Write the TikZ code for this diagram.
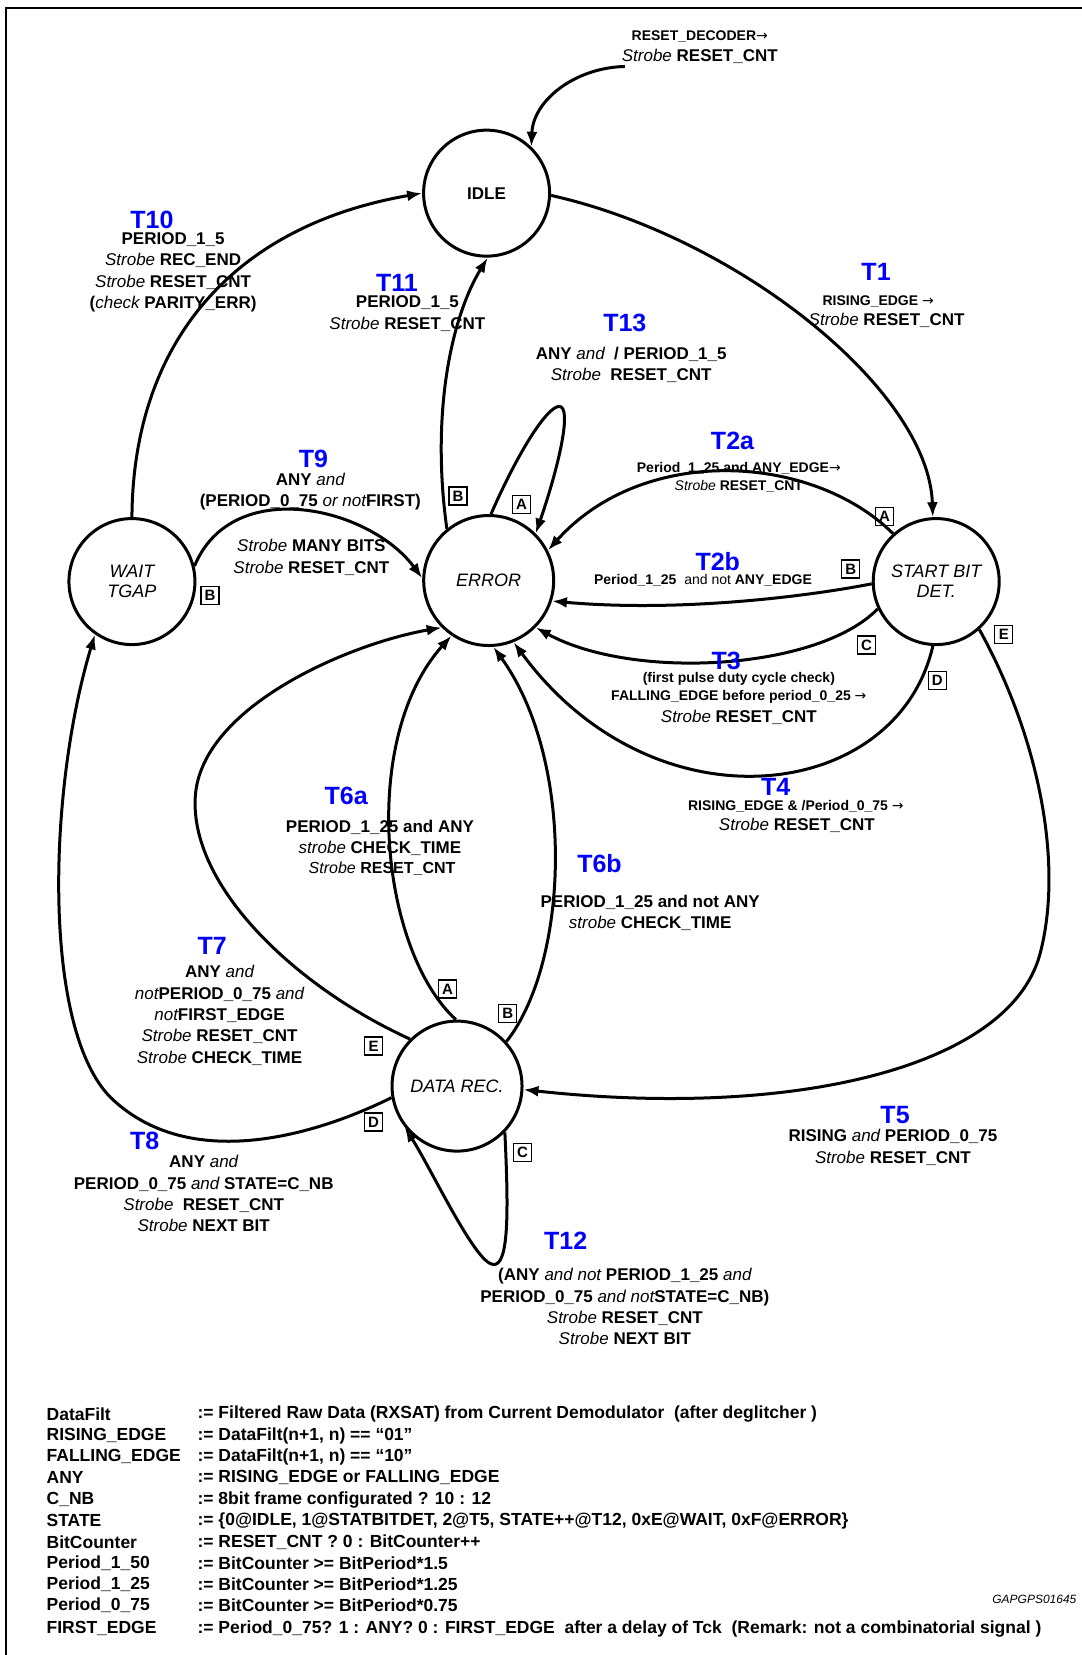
\documentclass[tikz,border=0pt]{standalone}
\usepackage{fontspec}
\setmainfont{Liberation Sans}
\newfontfamily\arrfont{DejaVu Sans}
\usetikzlibrary{arrows.meta}
\newcommand\Iw[1]{{\mdseries\itshape #1}}
\newcommand\Ar{{\mdseries\arrfont →}}
\begin{document}
\begin{tikzpicture}[x=1.0556pt,y=-1.0556pt,
  stnode/.style={circle,draw,line width=3pt,minimum size=126pt,inner sep=0pt,align=center,font=\fontsize{18}{20}\selectfont\itshape},
  tr/.style={line width=3pt,-{Latex[length=15pt,width=11pt]}},
  tl/.style={text=blue,font=\fontsize{25}{28}\selectfont\bfseries,inner sep=0pt},
  lb/.style={align=center,font=\fontsize{17}{21.3}\selectfont\bfseries,inner sep=0pt},
  sm/.style={align=center,font=\fontsize{14}{18}\selectfont\bfseries,inner sep=0pt},
  bx/.style={draw,line width=1.2pt,minimum size=18pt,inner sep=0pt,font=\fontsize{15}{15}\selectfont\bfseries},
  lg/.style={anchor=west,inner sep=0pt,font=\fontsize{17.5}{20}\selectfont\bfseries},
]
\useasboundingbox (0,0) rectangle (1025,1568);
\draw[line width=2pt] (6,1570) -- (6,8) -- (1027,8);

% states
\node[stnode,font=\fontsize{17}{20}\selectfont\bfseries] (idle) at (461,183) {IDLE};
\node[stnode,minimum size=130pt] (err) at (463,550) {ERROR};
\node[stnode] (wait) at (125,551) {WAIT\\TGAP};
\node[stnode] (sbd) at (887,551) {START BIT\\DET.};
\node[stnode,minimum size=130pt] (data) at (433,1029) {DATA REC.};

% initial
\node[sm] (rd) at (663,35) {RESET\_DECODER\Ar};
\node[lb] (rs) at (663,53) {\Iw{Strobe} RESET\_CNT};
\coordinate (rst) at (592,63);
\draw[tr] (rst) .. controls (545,64) and (505,95) .. (idle.46);

% transitions
\draw[tr] (idle.-2) .. controls (700,225) and (880,370) .. (sbd.93);
\draw[tr] (wait.90) .. controls (126,330) and (215,215) .. (idle.180);
\draw[tr] (err.129) .. controls (408,390) and (428,300) .. (idle.-89);
\draw[tr] (err.88) .. controls (490,430) and (518,385) .. (530,385) .. controls (542,386) and (530,440) .. (err.45);
\draw[tr] (wait.14) .. controls (220,450) and (350,480) .. (err.178);
\draw[tr] (sbd.132) .. controls (770,430) and (610,420) .. (err.27);
\draw[tr] (sbd.182) .. controls (760,566) and (640,580) .. (err.-18);
\draw[tr] (sbd.205) .. controls (775,635) and (600,645) .. (err.-45);
\draw[tr] (sbd.-93) .. controls (850,760) and (620,790) .. (err.-68);
\draw[tr] (sbd.-48) .. controls (985,700) and (1008,820) .. (985,905) .. controls (955,1012) and (750,1060) .. (data.-3);
\draw[tr] (data.91) .. controls (360,900) and (340,700) .. (err.236);
\draw[tr] (data.42) .. controls (540,910) and (545,720) .. (err.-86);
\draw[tr] (data.135) .. controls (280,935) and (180,840) .. (185,755) .. controls (190,670) and (330,610) .. (err.225);
\draw[tr] (data.190) .. controls (300,1075) and (180,1112) .. (105,1040) .. controls (40,975) and (45,750) .. (wait.235);
\draw[tr] (data.-44) .. controls (482,1150) and (482,1200) .. (467,1198) .. controls (450,1196) and (410,1110) .. (data.218);

% boxes
\node[bx] (bw) at (199,564) {B};
\node[bx] (b11) at (434,470) {B};
\node[bx] (a13) at (494,478) {A};
\node[bx] (a2) at (838,489) {A};
\node[bx] (b2) at (806,539) {B};
\node[bx] (c3) at (821,611) {C};
\node[bx] (d4) at (888,645) {D};
\node[bx] (e5) at (951,601) {E};
\node[bx] (a6) at (424,937) {A};
\node[bx] (b6) at (481,960) {B};
\node[bx] (e7) at (354,991) {E};
\node[bx] (d8) at (354,1063) {D};
\node[bx] (c12) at (495,1092) {C};

% labels
\node[tl] (t10) at (144,208) {T10};
\node[lb] (l10) at (164,258) {PERIOD\_1\_5\\\Iw{Strobe} REC\_END\\\Iw{Strobe} RESET\_CNT\\(\Iw{check} PARITY\_ERR)};
\node[tl] (t11) at (376,268) {T11};
\node[lb] (l11) at (386,297) {PERIOD\_1\_5\\\Iw{Strobe} RESET\_CNT};
\node[tl] (t13) at (592,306) {T13};
\node[lb] (l13) at (598,346) {ANY \Iw{and}\ \ / PERIOD\_1\_5\\\Iw{Strobe}\ \ RESET\_CNT};
\node[tl] (t1) at (830,258) {T1};
\node[sm] (l1a) at (832,286) {RISING\_EDGE \Ar};
\node[lb] (l1b) at (840,304) {\Iw{Strobe} RESET\_CNT};
\node[tl] (t9) at (297,435) {T9};
\node[lb] (l9) at (294,466) {ANY \Iw{and}\\(PERIOD\_0\_75 \Iw{or not}FIRST)};
\node[lb] (l9b) at (295,528) {\Iw{Strobe} MANY BITS\\\Iw{Strobe} RESET\_CNT};
\node[tl] (t2a) at (694,418) {T2a};
\node[sm] (l2a) at (700,452) {Period\_1\_25 and ANY\_EDGE\Ar\\\Iw{Strobe} RESET\_CNT};
\node[tl] (t2b) at (680,532) {T2b};
\node[sm] (l2b) at (666,550) {Period\_1\_25\ \ {\mdseries and not} ANY\_EDGE};
\node[tl] (t3) at (688,626) {T3};
\node[sm] (l3) at (700,652) {(first pulse duty cycle check)\\FALLING\_EDGE before period\_0\_25 \Ar};
\node[lb] (l3b) at (700,680) {\Iw{Strobe} RESET\_CNT};
\node[tl] (t4) at (735,746) {T4};
\node[sm] (l4) at (754,764) {RISING\_EDGE \& /Period\_0\_75 \Ar};
\node[lb] (l4b) at (755,782) {\Iw{Strobe} RESET\_CNT};
\node[tl] (t6a) at (328,754) {T6a};
\node[lb] (l6a) at (360,794) {PERIOD\_1\_25 and ANY\\\Iw{strobe} CHECK\_TIME};
\node[lb,font=\fontsize{16}{19}\selectfont\bfseries] (l6a2) at (362,823) {\Iw{Strobe} RESET\_CNT};
\node[tl] (t6b) at (568,818) {T6b};
\node[lb] (l6b) at (616,865) {PERIOD\_1\_25 and not ANY\\\Iw{strobe} CHECK\_TIME};
\node[tl] (t7) at (201,896) {T7};
\node[lb] (l7) at (208,962) {ANY \Iw{and}\\\Iw{not}PERIOD\_0\_75 \Iw{and}\\\Iw{not}FIRST\_EDGE\\\Iw{Strobe} RESET\_CNT\\\Iw{Strobe} CHECK\_TIME};
\node[tl] (t8) at (137,1081) {T8};
\node[lb] (l8) at (193,1131) {ANY \Iw{and}\\PERIOD\_0\_75 \Iw{and} STATE=C\_NB\\\Iw{Strobe}\ \ RESET\_CNT\\\Iw{Strobe} NEXT BIT};
\node[tl] (t5) at (848,1056) {T5};
\node[lb] (l5) at (846,1087) {RISING \Iw{and} PERIOD\_0\_75\\\Iw{Strobe} RESET\_CNT};
\node[tl] (t12) at (536,1176) {T12};
\node[lb] (l12) at (592,1238) {(ANY \Iw{and not} PERIOD\_1\_25 \Iw{and}\\PERIOD\_0\_75 \Iw{and not}STATE=C\_NB)\\\Iw{Strobe} RESET\_CNT\\\Iw{Strobe} NEXT BIT};

% legend
\node[lg] (k1) at (44,1340) {DataFilt};
\node[lg] (k2) at (44,1360) {RISING\_EDGE};
\node[lg] (k3) at (44,1380) {FALLING\_EDGE};
\node[lg] (k4) at (44,1400) {ANY};
\node[lg] (k5) at (44,1421) {C\_NB};
\node[lg] (k6) at (44,1441) {STATE};
\node[lg] (k7) at (44,1461) {BitCounter};
\node[lg] (k8) at (44,1481) {Period\_1\_50};
\node[lg] (k9) at (44,1501) {Period\_1\_25};
\node[lg] (k10) at (44,1521) {Period\_0\_75};
\node[lg] (k11) at (44,1543) {FIRST\_EDGE};
\node[lg] (v1) at (187,1340) {:= Filtered Raw Data (RXSAT) from Current Demodulator\ \ (after deglitcher )};
\node[lg] (v2) at (187,1360) {:= DataFilt(n+1, n) == “01”};
\node[lg] (v3) at (187,1380) {:= DataFilt(n+1, n) == “10”};
\node[lg] (v4) at (187,1400) {:= RISING\_EDGE or FALLING\_EDGE};
\node[lg] (v5) at (187,1421) {:= 8bit frame configurated ? 10 : 12};
\node[lg] (v6) at (187,1441) {:= \{0@IDLE, 1@STATBITDET, 2@T5, STATE++@T12, 0xE@WAIT, 0xF@ERROR\}};
\node[lg] (v7) at (187,1461) {:= RESET\_CNT ? 0 : BitCounter++};
\node[lg] (v8) at (187,1481) {:= BitCounter >= BitPeriod*1.5};
\node[lg] (v9) at (187,1501) {:= BitCounter >= BitPeriod*1.25};
\node[lg] (v10) at (187,1521) {:= BitCounter >= BitPeriod*0.75};
\node[lg] (v11) at (187,1543) {:= Period\_0\_75? 1 : ANY? 0 : FIRST\_EDGE\ \ after a delay of Tck\ \ (Remark: not a combinatorial signal )};
\node[anchor=east,inner sep=0pt,font=\fontsize{12}{12}\selectfont\itshape] (gap) at (1020,1515) {GAPGPS01645};
\end{tikzpicture}
\end{document}
